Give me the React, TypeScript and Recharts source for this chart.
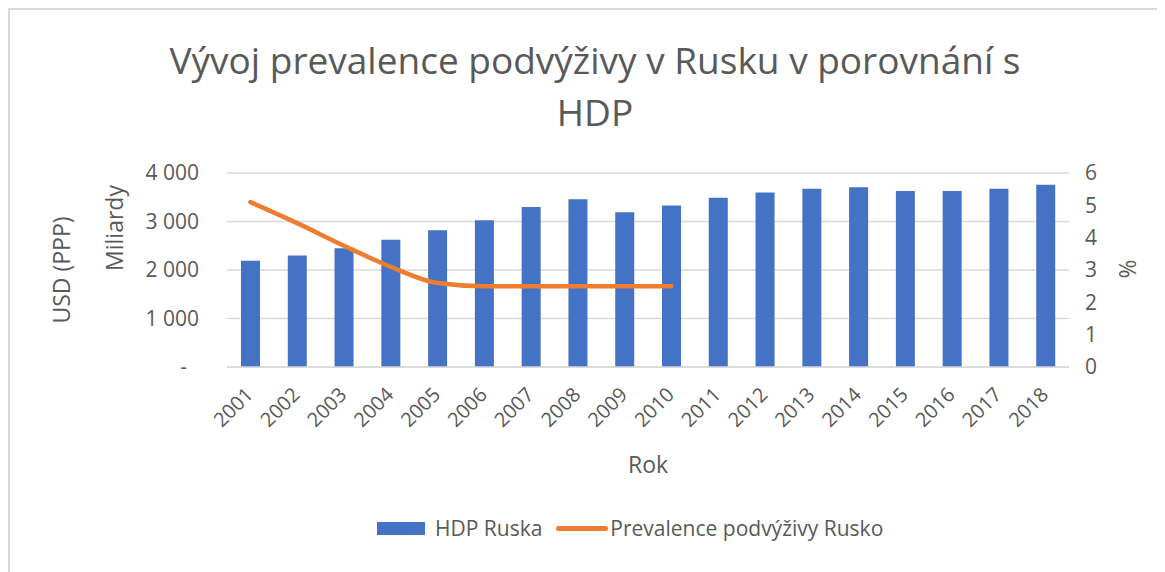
import { ComposedChart, Bar, Line, XAxis, YAxis, CartesianGrid, Legend } from "recharts";

const years = ["2001", "2002", "2003", "2004", "2005", "2006", "2007", "2008", "2009", "2010", "2011", "2012", "2013", "2014", "2015", "2016", "2017", "2018"];

// HDP (USD PPP, miliardy)
const gdp = [2190, 2300, 2450, 2625, 2820, 3025, 3300, 3460, 3190, 3330, 3490, 3600, 3675, 3705, 3630, 3630, 3675, 3760];

// prevalence podvýživy (%), data only through 2010
const undernourishment = [5.1, 4.45, 3.75, 3.1, 2.6, 2.5, 2.5, 2.5, 2.5, 2.5, null, null, null, null, null, null, null, null];

const leftTicks = [0, 1000, 2000, 3000, 4000];
const rightTicks = [0, 1, 2, 3, 4, 5, 6];

const data = years.map((year, i) => ({
  year,
  gdp: gdp[i],
  prevalence: undernourishment[i],
}));

const FONT = "'Open Sans', sans-serif";
const TEXT = "#595959";
const BLUE = "#4472C4";
const ORANGE = "#ED7D31";

const fmtThousands = (v: number) => (v === 0 ? "-" : `${Math.floor(v / 1000)} ${String(v % 1000).padStart(3, "0")}`);

const LeftTick = (props: any) => {
  const { x, y, payload } = props;
  const isZero = payload.value === 0;
  return (
    <text x={isZero ? x - 12 : x} y={y} dy="0.35em" textAnchor="end" fill={TEXT} fontSize={21} fontFamily={FONT}>
      {fmtThousands(payload.value)}
    </text>
  );
};

const RightTick = (props: any) => {
  const { x, y, payload } = props;
  return (
    <text x={x} y={y} dy="0.35em" textAnchor="start" fill={TEXT} fontSize={21} fontFamily={FONT}>
      {payload.value}
    </text>
  );
};

const YearTick = (props: any) => {
  const { x, y, payload } = props;
  const bx = x + 4;
  const by = y + 27;
  return (
    <text x={bx} y={by} textAnchor="end" fill={TEXT} fontSize={20} fontFamily={FONT} transform={`rotate(-45, ${bx}, ${by})`}>
      {payload.value}
    </text>
  );
};

const LegendContent = () => (
  <div style={{ display: "flex", alignItems: "center", height: 30, marginLeft: 360, fontFamily: FONT, fontSize: 21, color: TEXT }}>
    <span style={{ display: "inline-block", width: 48, height: 13, background: BLUE, marginRight: 10 }} />
    <span style={{ marginRight: 14 }}>HDP Ruska</span>
    <span style={{ display: "inline-block", width: 52, height: 5, borderRadius: 3, background: ORANGE, marginRight: 2 }} />
    <span>Prevalence podvýživy Rusko</span>
  </div>
);

export default function App() {
  return (
    <div
      style={{
        position: "relative",
        width: 1157,
        height: 564,
        boxSizing: "border-box",
        borderLeft: "2px solid #d9d9d9",
        borderTop: "2px solid #d9d9d9",
        background: "#fff",
      }}
    >
      <div
        style={{
          position: "absolute",
          top: 24,
          left: 0,
          width: 1170,
          textAlign: "center",
          fontFamily: FONT,
          fontSize: 37,
          lineHeight: "52px",
          color: TEXT,
        }}
      >
        Vývoj prevalence podvýživy v Rusku v porovnání s
        <br />
        HDP
      </div>
      <ComposedChart width={1155} height={562} data={data} margin={{ top: 163, right: 6, bottom: 29, left: 7 }}>
        <CartesianGrid yAxisId="left" vertical={false} stroke="#d9d9d9" strokeWidth={1.5} />
        <XAxis
          dataKey="year"
          height={146}
          axisLine={{ stroke: "#d9d9d9", strokeWidth: 1.5 }}
          tickLine={false}
          tickSize={0}
          interval={0}
          tick={<YearTick />}
          label={{ value: "Rok", position: "insideTop", offset: 90, fill: TEXT, fontSize: 23, fontFamily: FONT }}
        />
        <YAxis
          yAxisId="left"
          width={210}
          domain={[0, 4000]}
          ticks={leftTicks}
          axisLine={false}
          tickLine={false}
          tickSize={0}
          tickMargin={28}
          tick={<LeftTick />}
          label={{
            content: (p: any) => {
              const vb = p.viewBox || { x: 7, y: 163, height: 194 };
              const x1 = vb.x + 45;
              const x2 = vb.x + 98;
              const y1 = 260;
              const y2 = 218;
              return (
                <g fill={TEXT} fontSize={23} fontFamily={FONT}>
                  <text x={x1} y={y1} textAnchor="middle" dy="0.35em" transform={`rotate(-90, ${x1}, ${y1})`}>
                    USD (PPP)
                  </text>
                  <text x={x2} y={y2} textAnchor="middle" dy="0.35em" transform={`rotate(-90, ${x2}, ${y2})`}>
                    Miliardy
                  </text>
                </g>
              );
            },
          }}
        />
        <YAxis
          yAxisId="right"
          orientation="right"
          width={90}
          domain={[0, 6]}
          ticks={rightTicks}
          axisLine={false}
          tickLine={false}
          tickSize={0}
          tickMargin={16}
          tick={<RightTick />}
          label={{
            content: () => (
              <text x={1118} y={259} textAnchor="middle" dy="0.35em" fill={TEXT} fontSize={23} fontFamily={FONT} transform="rotate(-90, 1118, 259)">
                %
              </text>
            ),
          }}
        />
        <Legend verticalAlign="bottom" content={<LegendContent />} />
        <Bar yAxisId="left" dataKey="gdp" name="HDP Ruska" fill={BLUE} barSize={19} isAnimationActive={false} />
        <Line
          yAxisId="right"
          type="monotone"
          dataKey="prevalence"
          name="Prevalence podvýživy Rusko"
          stroke={ORANGE}
          strokeWidth={4.5}
          strokeLinecap="round"
          dot={false}
          activeDot={false}
          connectNulls={false}
          isAnimationActive={false}
        />
      </ComposedChart>
    </div>
  );
}
